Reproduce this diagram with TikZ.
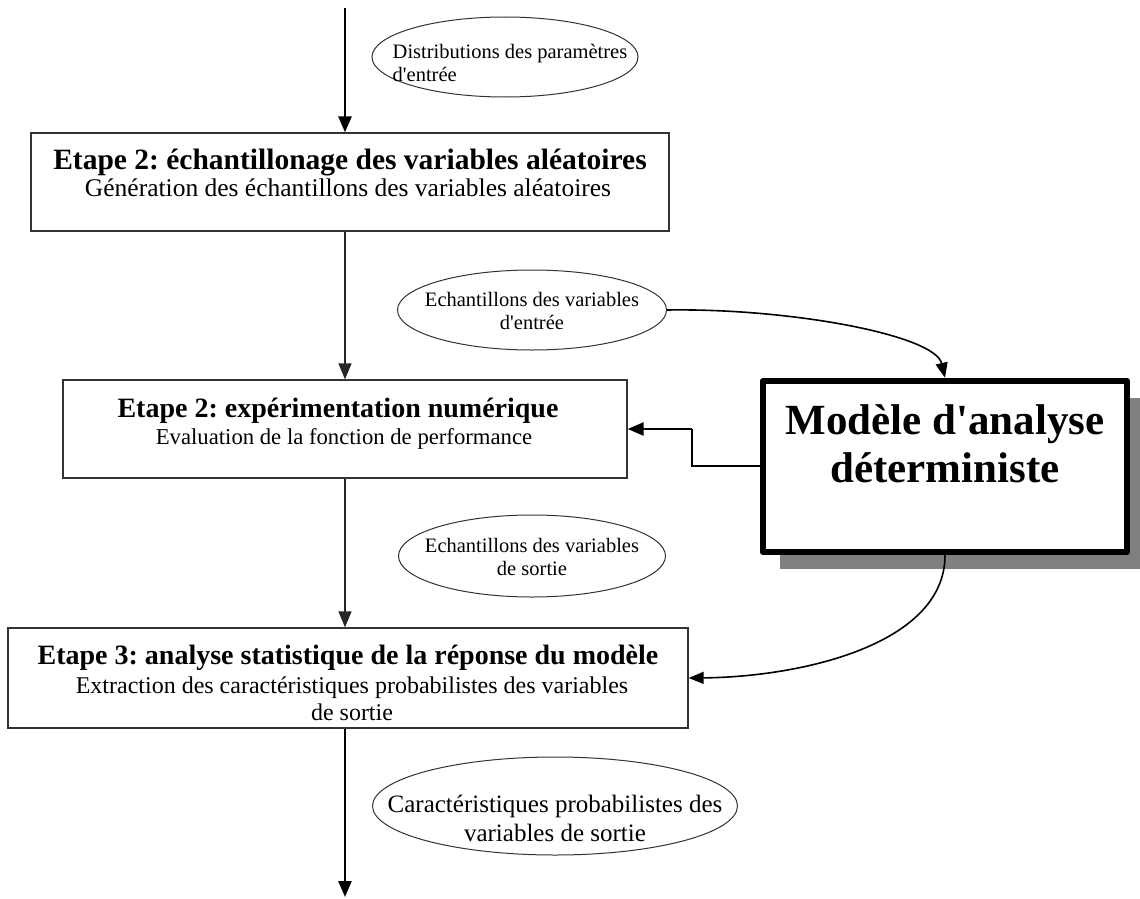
\documentclass[tikz,border=0pt]{standalone}
\usepackage{fontspec}
\setmainfont{Liberation Serif}
\usetikzlibrary{arrows.meta,shapes.geometric,shadows}
\frenchspacing
\tikzset{
  stepbox/.style={draw=black!80, line width=1.3pt, fill=white, inner sep=0pt},
  titletext/.style={font=\fontsize{28}{32}\selectfont\bfseries, inner sep=0pt, anchor=base},
  subtext/.style={font=\fontsize{24}{27}\selectfont, inner sep=0pt, align=center},
  ell/.style={ellipse, draw=black!80, line width=1pt, fill=white, inner sep=0pt},
  elltext/.style={font=\fontsize{20.5}{23}\selectfont, inner sep=0pt},
  modelbox/.style={draw=black, line width=6.5pt, line join=round, fill=white, inner sep=0pt,
    drop shadow={shadow xshift=17pt, shadow yshift=-17pt, fill=black!50, opacity=1}},
  modeltext/.style={font=\fontsize{43}{48}\selectfont\bfseries, inner sep=0pt, align=center},
  tip/.style={-{Triangle[length=16pt,width=13pt]}},
  thickarrow/.style={tip, line width=2.6pt},
  thinarrow/.style={tip, line width=1.4pt, draw=black!85},
  curvearrow/.style={-{Triangle[length=15pt,width=12pt]}, line width=1.6pt},
}
\begin{document}
\begin{tikzpicture}[x=1pt,y=-1pt]
\useasboundingbox (0,0) rectangle (1140,899);
\fill[white] (0,0) rectangle (1140,899);

% boxes
\node[stepbox, minimum width=638pt, minimum height=98pt] (b1) at (350,182) {};
\node[titletext, font=\fontsize{29.5}{33}\selectfont\bfseries] (b1t) at (350,169) {Etape 2: échantillonage des variables aléatoires};
\node[subtext, font=\fontsize{25.5}{28}\selectfont, anchor=base] (b1s) at (348,196) {Génération des échantillons des variables aléatoires};

\node[stepbox, minimum width=564pt, minimum height=98pt] (b2) at (345,429) {};
\node[titletext] (b2t) at (338,417) {Etape 2: expérimentation numérique};
\node[subtext, font=\fontsize{22.7}{26}\selectfont, anchor=base] (b2s) at (344,444) {Evaluation de la fonction de performance};

\node[stepbox, minimum width=680pt, minimum height=100pt] (b3) at (348,678) {};
\node[titletext] (b3t) at (348,664) {Etape 3: analyse statistique de la réponse du modèle};
\node[subtext] (b3s) at (352,699) {Extraction des caractéristiques probabilistes des variables\\de sortie};

% ellipses
\node[ell, minimum width=266pt, minimum height=80pt] (e1) at (505,57) {};
\node[elltext, align=left] (e1t) at (510,63) {Distributions des paramètres\\d\textquotesingle entrée};

\node[ell, minimum width=269pt, minimum height=80pt] (e2) at (532,310) {};
\node[elltext, align=center] (e2t) at (532,311) {Echantillons des variables\\d\textquotesingle entrée};

\node[ell, minimum width=267pt, minimum height=82pt] (e3) at (532,556) {};
\node[elltext, align=center] (e3t) at (532,557) {Echantillons des variables\\de sortie};

\node[ell, minimum width=365pt, minimum height=98pt] (e4) at (555,806) {};
\node[elltext, font=\fontsize{25}{29}\selectfont, align=center] (e4t) at (555,818) {Caractéristiques probabilistes des\\variables de sortie};

% model
\node[modelbox, minimum width=364pt, minimum height=171pt] (m) at (945,466.5) {};
\node[modeltext] (mt) at (945,444) {Modèle d\textquotesingle analyse\\déterministe};

% connectors
\coordinate (top) at (345,8);
\coordinate (bot) at (345,897);
\coordinate (bend) at (692,429);
\draw[thickarrow] (top) -- (top |- b1.north);
\draw[thinarrow] (top |- b1.south) -- (top |- b2.north);
\draw[thinarrow] (top |- b2.south) -- (top |- b3.north);
\draw[thickarrow] (top |- b3.south) -- (bot);

\draw[curvearrow] (e2.east) .. controls (790,308) and (935,335) .. (m.north);
\draw[curvearrow] (m.south) .. controls (945,645) and (800,677) .. (b3.east);
\draw[line width=1.4pt] (m.west |- 0,466) -| (bend);
\draw[thickarrow] (bend) -- (b2.east);
\end{tikzpicture}
\end{document}
